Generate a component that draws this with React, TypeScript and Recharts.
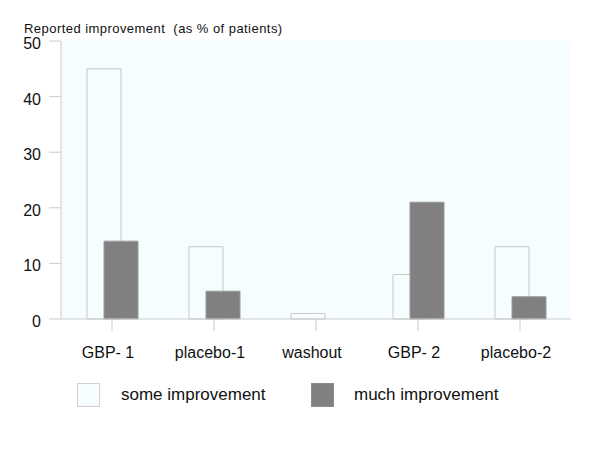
import { BarChart, Bar, XAxis, YAxis, CartesianGrid } from "recharts"

const categories = ["GBP- 1", "placebo-1", "washout", "GBP- 2", "placebo-2"]
const someImprovement = [45, 13, 1, 8, 13]
const muchImprovement = [14, 5, 0, 21, 4]
const yTicks = [0, 10, 20, 30, 40, 50]
const seriesNames = ["some improvement", "much improvement"]

const FONT = '"Liberation Sans", Arial, Helvetica, sans-serif'
const PLOT_BG = "#f6fdfe"
const AXIS = "#cccccc"
const GREY = "#808080"

const data = categories.map((cat, i) => ({
  cat,
  some: someImprovement[i],
  much: muchImprovement[i],
}))

function XTick({ x, y, payload }: { x?: number; y?: number; payload?: { value: string } }) {
  return (
    <text x={(x ?? 0) - 4} y={(y ?? 0) + 27} textAnchor="middle" fontSize={16} fill="#111" fontFamily={FONT}>
      {payload?.value}
    </text>
  )
}

function YTick({ x, y, payload }: { x?: number; y?: number; payload?: { value: number } }) {
  return (
    <text x={x} y={(y ?? 0) + 8} textAnchor="end" fontSize={16} fill="#111" fontFamily={FONT}>
      {payload?.value}
    </text>
  )
}

export default function App() {
  return (
    <div style={{ position: "absolute", left: 0, top: 0, width: 600, height: 454, background: "#fff", fontFamily: FONT }}>
      <div
        style={{
          position: "absolute",
          left: 24,
          top: 21,
          fontSize: 13,
          letterSpacing: 0.45,
          lineHeight: "15px",
          color: "#111",
          whiteSpace: "pre",
        }}
      >
        {"Reported improvement  (as % of patients)"}
      </div>
      <BarChart
        width={600}
        height={454}
        data={data}
        margin={{ top: 41, right: 29, left: 0, bottom: 95 }}
        barSize={34}
        barGap={-17}
      >
        <CartesianGrid fill={PLOT_BG} horizontal={false} vertical={false} />
        <XAxis
          dataKey="cat"
          interval={0}
          height={40}
          tickSize={12}
          tickMargin={0}
          axisLine={{ stroke: AXIS }}
          tickLine={{ stroke: AXIS }}
          tick={<XTick />}
        />
        <YAxis
          width={61}
          domain={[0, 50]}
          ticks={yTicks}
          tickSize={12}
          tickMargin={8}
          axisLine={{ stroke: AXIS }}
          tickLine={{ stroke: AXIS }}
          tick={<YTick />}
        />
        <Bar dataKey="some" name={seriesNames[0]} fill={PLOT_BG} stroke="#c8c8c8" isAnimationActive={false} />
        <Bar dataKey="much" name={seriesNames[1]} fill={GREY} stroke="#9a9a9a" isAnimationActive={false} />
      </BarChart>
      {/* legend */}
      <div style={{ position: "absolute", left: 77, top: 383, width: 21, height: 22, background: PLOT_BG, border: "1px solid #d0d0d0" }} />
      <div style={{ position: "absolute", left: 121, top: 385, fontSize: 17, color: "#111", lineHeight: "20px" }}>
        {seriesNames[0]}
      </div>
      <div style={{ position: "absolute", left: 311, top: 383, width: 21, height: 22, background: GREY, border: "1px solid #8c8c8c" }} />
      <div style={{ position: "absolute", left: 354, top: 385, fontSize: 17, color: "#111", lineHeight: "20px" }}>
        {seriesNames[1]}
      </div>
    </div>
  )
}
